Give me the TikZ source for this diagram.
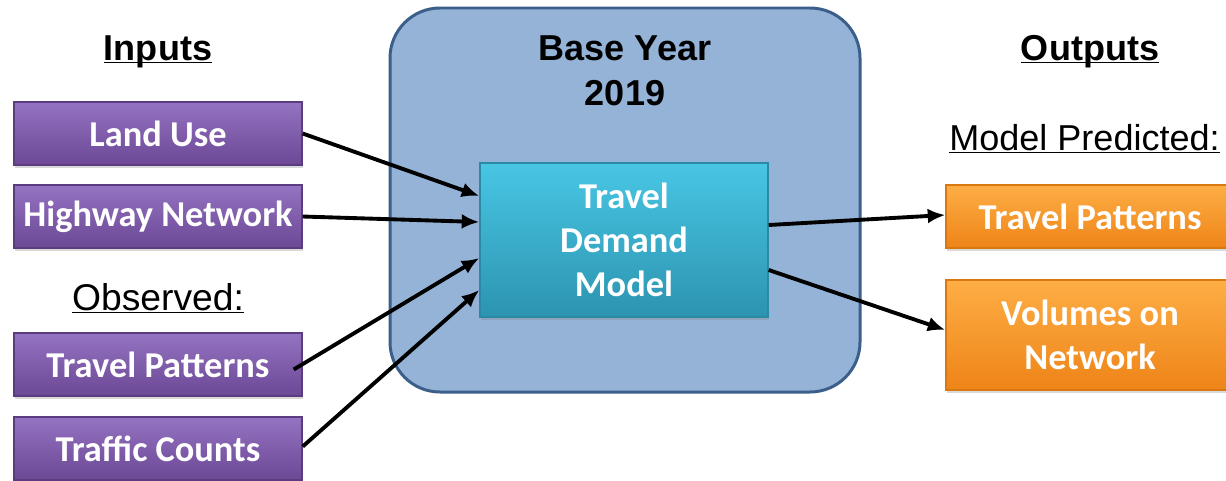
\documentclass[tikz,border=0pt]{standalone}
\usepackage{fontspec}
\setmainfont{Liberation Sans}
\newfontfamily\boxfont{Carlito}
\usetikzlibrary{arrows.meta,shapes,shadows}
\pgfdeclarelayer{background}
\pgfsetlayers{background,main}
\definecolor{inTop}{HTML}{9473C2}
\definecolor{inBot}{HTML}{6C4895}
\definecolor{inEdge}{HTML}{5B3C80}
\definecolor{modTop}{HTML}{48C6E4}
\definecolor{modBot}{HTML}{2C94B0}
\definecolor{modEdge}{HTML}{2A8AA6}
\definecolor{outTop}{HTML}{FDAE45}
\definecolor{outBot}{HTML}{EE8418}
\definecolor{outEdge}{HTML}{D9780F}
\definecolor{baseFill}{HTML}{95B3D7}
\definecolor{baseEdge}{HTML}{3B5E8A}
\tikzstyle{block}=[rectangle,draw,line width=0.8pt,minimum width=5.76cm,inner sep=0pt,align=center,text=white,font=\boxfont\bfseries\fontsize{20.7}{25}\selectfont,drop shadow={opacity=0.3,shadow xshift=0.6pt,shadow yshift=-1.6pt}]
\tikzstyle{input block} = [block, minimum height=1.26cm, draw=inEdge, top color=inTop, bottom color=inBot]
\tikzstyle{output block} = [block, draw=outEdge, top color=outTop, bottom color=outBot]
\tikzstyle{model block} = [block, minimum height=3.08cm, draw=modEdge, top color=modTop, bottom color=modBot]
\tikzstyle{heading}=[inner sep=0pt,anchor=base,font=\bfseries\fontsize{20.5}{25}\selectfont]
\tikzstyle{note}=[inner sep=0pt,anchor=base,font=\fontsize{21.2}{25}\selectfont]
\tikzstyle{link} = [draw,line width=2.2pt,-{Latex[length=10pt,width=8.5pt]}]

\begin{document}
\begin{tikzpicture}[scale=1]
    \useasboundingbox (0,0) rectangle (24.52,9.6);
    \clip (0,0) rectangle (24.52,9.6);

    % First we draw the blocks
    \foreach \pos/\name/\txt in {{(3.16,6.93)/landuse/Land Use}, {(3.16,5.27)/highway/Highway Network}, {(3.16,2.31)/obspat/Travel Patterns}, {(3.16,0.63)/counts/Traffic Counts}}
        \node[input block] (\name) at \pos {\txt};

    \node[model block] (tdm) at (12.48,4.8) {Travel\\Demand\\Model};

    \node[output block, minimum height=1.26cm] (predpat) at (21.8,5.27) {Travel Patterns};
    \node[output block, minimum height=2.2cm] (volumes) at (21.8,2.9) {Volumes on\\Network};

    % Headings and labels
    \node[heading] (inputs) at (3.16,8.4) {\underline{\smash{Inputs}}};
    \node[heading] (outputs) at (21.8,8.4) {\underline{\smash{Outputs}}};
    \node[heading] (baseyear) at (12.5,8.4) {Base Year};
    \node[heading] (year) at (12.5,7.5) {2019};
    \node[note] (observed) at (3.16,3.4) {\underline{\smash{Observed:}}};
    \node[note, anchor=base west, font=\fontsize{20.5}{25}\selectfont] (predicted) at (18.98,6.6) {\underline{\smash{Model Predicted:}}};

    % The base year box goes behind
    \begin{pgfonlayer}{background}
        \node[draw=baseEdge, fill=baseFill, line width=1.7pt, rounded corners=1cm, minimum width=9.4cm, minimum height=7.68cm] (base) at (12.5,5.6) {};
    \end{pgfonlayer}

    % Connect blocks with arrows
    \path[link] (landuse.east) -- ([yshift=0.88cm]tdm.west);
    \path[link] (highway.east) -- ([yshift=0.36cm]tdm.west);
    \path[link] ([xshift=-0.18cm,yshift=-0.1cm]obspat.east) -- ([yshift=-0.36cm]tdm.west);
    \path[link] ([yshift=0.04cm]counts.east) -- ([yshift=-1.0cm]tdm.west);
    \path[link] ([yshift=0.3cm]tdm.east) -- ([yshift=0.03cm]predpat.west);
    \path[link] ([yshift=-0.6cm]tdm.east) -- ([yshift=0.1cm]volumes.west);
\end{tikzpicture}
\end{document}
